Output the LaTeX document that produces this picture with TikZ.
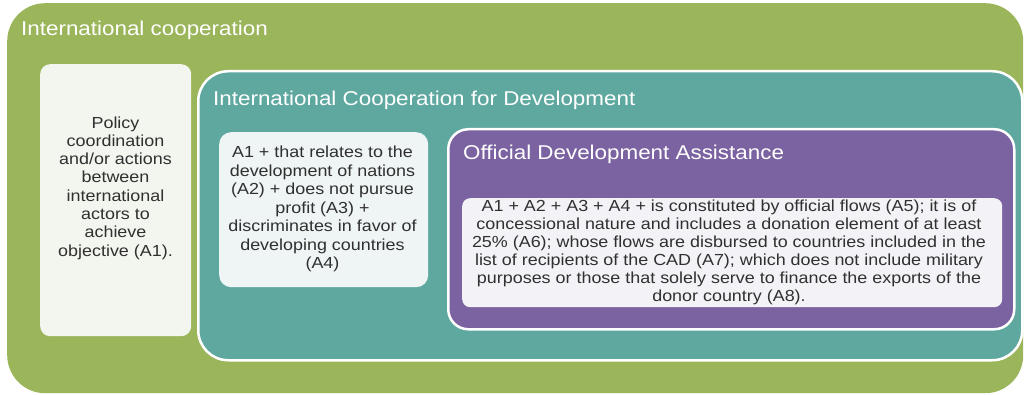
\documentclass[tikz,border=0pt]{standalone}
\usepackage{fontspec}
\setmainfont[FakeStretch=1.12]{Liberation Sans}
\definecolor{icgreen}{HTML}{9BB55B}
\definecolor{icdteal}{HTML}{5EA8A0}
\definecolor{odapurple}{HTML}{7B62A0}
\definecolor{policyfill}{HTML}{F3F6EE}
\definecolor{icdfill}{HTML}{EEF5F4}
\definecolor{odafill}{HTML}{F3F2F6}
\definecolor{bodytext}{HTML}{303030}
\begin{document}
\begin{tikzpicture}[x=1pt,y=-1pt,
    panel/.style={anchor=north west,inner sep=0pt,rounded corners=#1},
    framed/.style={draw=white,line width=2.5pt},
    heading/.style={anchor=base west,inner sep=0pt,text=white,font=\fontsize{20}{24}\selectfont},
    bodybox/.style={align=center,inner sep=0pt,text=bodytext,font=\fontsize{16}{#1}\selectfont}]
  \useasboundingbox (0,0) rectangle (1024,395);
  % nested panels
  \node[panel=38,fill=icgreen,minimum width=1016,minimum height=390] (ic) at (7,3) {};
  \node[panel=10,fill=policyfill,minimum width=151,minimum height=272] (policy) at (40,64) {};
  \node[panel=30,framed,fill=icdteal,minimum width=824,minimum height=289] (icd) at (197,70) {};
  \node[panel=12,fill=icdfill,minimum width=209,minimum height=155] (icdbox) at (219,132) {};
  \node[panel=20,framed,fill=odapurple,minimum width=566,minimum height=200] (oda) at (447,128) {};
  \node[panel=8,fill=odafill,minimum width=540,minimum height=109] (odabox) at (462,198) {};
  % headings
  \node[heading] (ictitle) at (21,36) {International cooperation};
  \node[heading] (icdtitle) at (213,106) {International Cooperation for Development};
  \node[heading] (odatitle) at (463,160) {Official Development Assistance};
  % texts
  \node[bodybox=18.3] (policytext) at (115.5,188) {Policy\\coordination\\and/or actions\\between\\international\\actors to\\achieve\\objective (A1).};
  \node[bodybox=18.5] (icdtext) at (322.5,209) {A1 + that relates to the\\development of nations\\(A2) + does not pursue\\profit (A3) +\\discriminates in favor of\\developing countries\\(A4)};
  \node[bodybox=18] (odatext) at (729,252) {A1 + A2 + A3 + A4 + is constituted by official flows (A5); it is of\\concessional nature and includes a donation element of at least\\25\% (A6); whose flows are disbursed to countries included in the\\list of recipients of the CAD (A7); which does not include military\\purposes or those that solely serve to finance the exports of the\\donor country (A8).};
\end{tikzpicture}
\end{document}
